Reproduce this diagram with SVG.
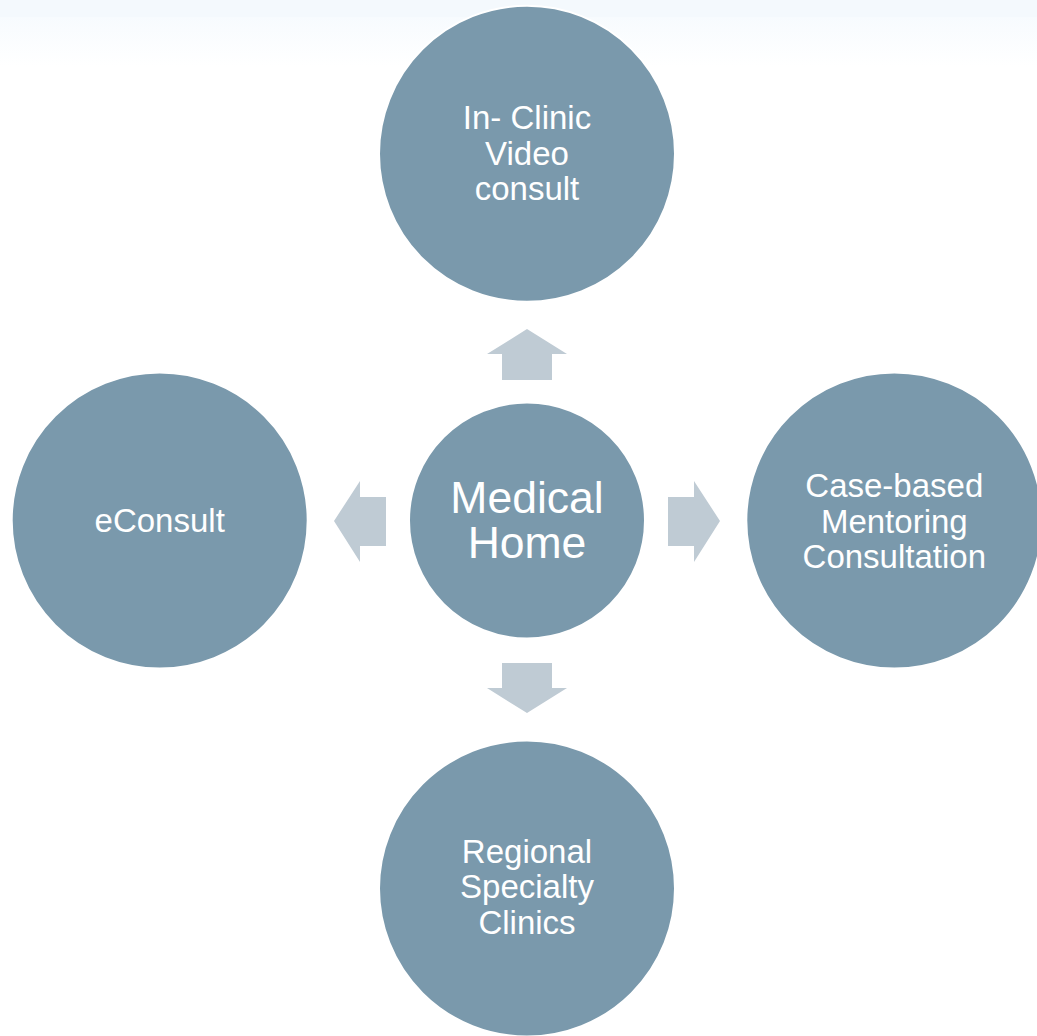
<svg xmlns="http://www.w3.org/2000/svg" width="1037" height="1036" viewBox="0 0 1037 1036">
  <defs>
    <linearGradient id="bg" x1="0" y1="0" x2="0" y2="1">
      <stop offset="0" stop-color="#f7fbfe"/>
      <stop offset="1" stop-color="#ffffff"/>
    </linearGradient>
  </defs>
  <style>
    .node { fill: #7a99ac; stroke: #ffffff; stroke-width: 2; }
    .arrow { fill: #bfcbd4; }
    .lbl { font-family: "Liberation Sans", Arial, sans-serif; fill: #ffffff; text-anchor: middle; }
    .sm { font-size: 33px; }
    .lg { font-size: 44.5px; }
  </style>
  <rect x="0" y="0" width="1037" height="1036" fill="#ffffff"/>
  <rect x="0" y="0" width="1037" height="17" fill="#f4f9fd"/>
  <rect x="0" y="17" width="1037" height="50" fill="url(#bg)"/>

  <g id="connectors">
    <polygon class="arrow" points="527,329 567,354 552,354 552,380 502,380 502,354 487,354"/>
    <polygon class="arrow" points="527,713 567,688 552,688 552,663 502,663 502,688 487,688"/>
    <polygon class="arrow" points="334,521 360,481 360,497 386,497 386,546 360,546 360,562"/>
    <polygon class="arrow" points="720,521 694,481 694,497 668,497 668,546 694,546 694,562"/>
  </g>

  <g id="node-center">
    <circle class="node" cx="527" cy="520.5" r="118"/>
    <text class="lbl lg" x="527" y="512.5">Medical</text>
    <text class="lbl lg" x="527" y="558">Home</text>
  </g>

  <g id="node-top">
    <circle class="node" cx="527" cy="153.8" r="148"/>
    <text class="lbl sm" x="527" y="129">In- Clinic</text>
    <text class="lbl sm" x="527" y="164.5">Video</text>
    <text class="lbl sm" x="527" y="200">consult</text>
  </g>

  <g id="node-left">
    <circle class="node" cx="159.7" cy="520.5" r="148"/>
    <text class="lbl sm" x="159.7" y="532">eConsult</text>
  </g>

  <g id="node-right">
    <circle class="node" cx="894.3" cy="520.5" r="148"/>
    <text class="lbl sm" x="894.3" y="497">Case-based</text>
    <text class="lbl sm" x="894.3" y="532.5">Mentoring</text>
    <text class="lbl sm" x="894.3" y="568">Consultation</text>
  </g>

  <g id="node-bottom">
    <circle class="node" cx="527" cy="888.5" r="148"/>
    <text class="lbl sm" x="527" y="862.5">Regional</text>
    <text class="lbl sm" x="527" y="898">Specialty</text>
    <text class="lbl sm" x="527" y="934">Clinics</text>
  </g>
</svg>
